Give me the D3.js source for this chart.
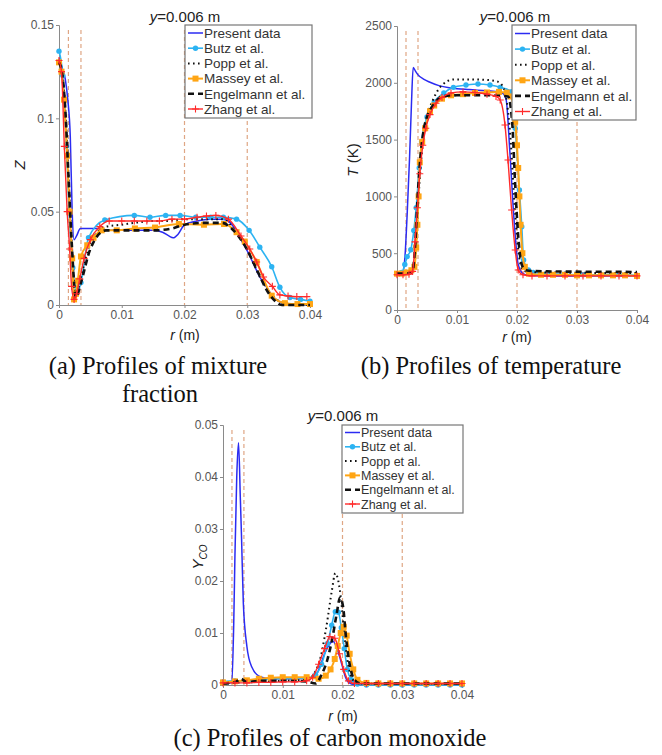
<!DOCTYPE html>
<html>
<head>
<meta charset="utf-8">
<script src="https://cdn.jsdelivr.net/npm/d3@7"></script>
<style>
  body { margin: 0; background: #fff; }
  svg { display: block; }
</style>
</head>
<body>
<script>
// Series names (legend order)
const seriesNames = ['Present data', 'Butz et al.', 'Popp et al.', 'Massey et al.', 'Engelmann et al.', 'Zhang et al.'];
const rTicks = [0, 0.01, 0.02, 0.03, 0.04];
const guideR = [0.0015, 0.0035, 0.02, 0.03];
const zTicks = [0, 0.05, 0.1, 0.15];
const tTicks = [0, 500, 1000, 1500, 2000, 2500];
const coTicks = [0, 0.01, 0.02, 0.03, 0.04, 0.05];

// (a) mixture fraction Z
const zPresentR = [0, 0.0005, 0.001, 0.0014, 0.0018, 0.0021, 0.0024, 0.0028, 0.0034, 0.005, 0.0065, 0.008, 0.012, 0.015, 0.0165, 0.0175, 0.0182, 0.019, 0.02, 0.022, 0.024, 0.026, 0.027, 0.028, 0.029, 0.03, 0.031, 0.032, 0.033, 0.034, 0.035, 0.036, 0.038, 0.04];
const zPresentV = [0.132, 0.127, 0.121, 0.11, 0.09, 0.05, 0.035, 0.037, 0.041, 0.041, 0.041, 0.040, 0.040, 0.040, 0.039, 0.037, 0.036, 0.038, 0.043, 0.045, 0.046, 0.046, 0.045, 0.041, 0.035, 0.029, 0.022, 0.015, 0.010, 0.005, 0.002, 0.001, 0.0005, 0.0003];
const zButzR = [0, 0.0006, 0.0012, 0.0016, 0.0022, 0.0028, 0.0035, 0.0047, 0.0073, 0.012, 0.0145, 0.017, 0.0193, 0.0218, 0.0242, 0.0262, 0.0283, 0.0303, 0.032, 0.0339, 0.0352, 0.0368, 0.0385, 0.04];
const zButzV = [0.136, 0.123, 0.085, 0.05, 0.02, 0.006, 0.012, 0.036, 0.0455, 0.048, 0.047, 0.048, 0.048, 0.047, 0.047, 0.047, 0.046, 0.040, 0.031, 0.0205, 0.0095, 0.004, 0.003, 0.002];
const zPoppR = [0, 0.0005, 0.001, 0.0015, 0.002, 0.0027, 0.0035, 0.005, 0.0075, 0.01, 0.012, 0.015, 0.017, 0.02, 0.023, 0.026, 0.028, 0.03, 0.032, 0.034, 0.036, 0.04];
const zPoppV = [0.131, 0.125, 0.105, 0.07, 0.035, 0.005, 0.015, 0.033, 0.042, 0.043, 0.044, 0.045, 0.045, 0.046, 0.046, 0.046, 0.040, 0.030, 0.015, 0.005, 0.001, 0];
const zMasseyR = [0, 0.0004, 0.0008, 0.0013, 0.0017, 0.0021, 0.0024, 0.0027, 0.003, 0.0035, 0.0045, 0.0055, 0.0068, 0.0092, 0.0121, 0.0153, 0.0191, 0.0231, 0.0263, 0.0283, 0.0296, 0.0315, 0.0339, 0.036, 0.038, 0.04];
const zMasseyV = [0.13, 0.125, 0.11, 0.08, 0.05, 0.025, 0.003, 0.006, 0.013, 0.026, 0.032, 0.036, 0.040, 0.040, 0.041, 0.0415, 0.0434, 0.043, 0.0434, 0.039, 0.034, 0.023, 0.005, 0.001, 0.0005, 0.0005];
const zEngelR = [0, 0.0005, 0.001, 0.0015, 0.002, 0.0027, 0.0035, 0.005, 0.0075, 0.01, 0.015, 0.018, 0.02, 0.023, 0.026, 0.0275, 0.0294, 0.0318, 0.0331, 0.0345, 0.0355, 0.04];
const zEngelV = [0.13, 0.124, 0.105, 0.07, 0.035, 0.004, 0.012, 0.03, 0.04, 0.04, 0.04, 0.041, 0.043, 0.044, 0.044, 0.041, 0.033, 0.017, 0.008, 0.002, 0, 0];
const zZhangR = [0, 0.0004, 0.00085, 0.0013, 0.0017, 0.002, 0.0024, 0.0028, 0.0033, 0.004, 0.005, 0.0065, 0.008, 0.01, 0.012, 0.014, 0.016, 0.018, 0.02, 0.022, 0.0235, 0.025, 0.027, 0.029, 0.0304, 0.0315, 0.0326, 0.034, 0.0352, 0.0365, 0.0379, 0.0395];
const zZhangV = [0.131, 0.125, 0.085, 0.05, 0.03, 0.01, 0.003, 0.006, 0.014, 0.025, 0.035, 0.042, 0.045, 0.045, 0.045, 0.045, 0.045, 0.046, 0.046, 0.047, 0.0477, 0.048, 0.046, 0.037, 0.030, 0.023, 0.015, 0.010, 0.0054, 0.0048, 0.0045, 0.0045];

// (b) temperature T (K)
const tPresentR = [0, 0.0009, 0.0013, 0.0017, 0.0021, 0.0024, 0.0027, 0.0031, 0.0035, 0.0045, 0.0055, 0.007, 0.009, 0.012, 0.015, 0.017, 0.0178, 0.0182, 0.0188, 0.0195, 0.0202, 0.021, 0.0218, 0.025, 0.03, 0.04];
const tPresentV = [320, 325, 450, 850, 1350, 1800, 2135, 2100, 2070, 2030, 2005, 1975, 1955, 1940, 1930, 1920, 1900, 1850, 1400, 800, 400, 320, 305, 300, 300, 300];
const tButzR = [0, 0.0008, 0.0013, 0.0017, 0.0023, 0.0028, 0.0032, 0.0037, 0.0041, 0.005, 0.0062, 0.0078, 0.0094, 0.0115, 0.0135, 0.0155, 0.0172, 0.0191, 0.0197, 0.0204, 0.0208, 0.0211, 0.0219, 0.0227, 0.025, 0.028, 0.031, 0.034, 0.037, 0.04];
const tButzV = [320, 330, 400, 470, 530, 700, 900, 1250, 1480, 1700, 1830, 1910, 1960, 1980, 1990, 1980, 1960, 1922, 1600, 1056, 733, 440, 352, 330, 320, 315, 310, 310, 310, 305];
const tPoppR = [0, 0.002, 0.0028, 0.0032, 0.0036, 0.004, 0.0045, 0.005, 0.006, 0.0075, 0.0095, 0.012, 0.015, 0.0168, 0.0178, 0.0185, 0.019, 0.0195, 0.02, 0.0205, 0.021, 0.022, 0.025, 0.04];
const tPoppV = [320, 320, 340, 600, 1000, 1300, 1550, 1700, 1850, 1980, 2030, 2030, 2025, 2010, 1950, 1750, 1450, 1000, 650, 420, 350, 335, 330, 325];
const tMasseyR = [0, 0.0008, 0.0016, 0.0024, 0.0029, 0.0032, 0.0034, 0.0036, 0.0038, 0.0042, 0.0047, 0.0055, 0.0062, 0.0075, 0.009, 0.011, 0.013, 0.015, 0.017, 0.0183, 0.019, 0.0197, 0.02, 0.0202, 0.0204, 0.0206, 0.0209, 0.0213, 0.022, 0.024, 0.026, 0.028, 0.03, 0.032, 0.034, 0.036, 0.038, 0.04];
const tMasseyV = [320, 320, 330, 350, 380, 550, 750, 1000, 1300, 1480, 1600, 1750, 1800, 1860, 1890, 1900, 1910, 1915, 1920, 1913, 1880, 1658, 1450, 1250, 1000, 750, 500, 380, 320, 310, 310, 310, 305, 305, 305, 305, 305, 300];
const tEngelR = [0, 0.002, 0.0026, 0.003, 0.0035, 0.004, 0.0045, 0.005, 0.006, 0.0075, 0.01, 0.015, 0.0185, 0.0192, 0.0197, 0.0202, 0.0207, 0.0212, 0.022, 0.025, 0.04];
const tEngelV = [320, 320, 340, 550, 1050, 1400, 1600, 1700, 1800, 1880, 1890, 1890, 1880, 1650, 1100, 650, 420, 360, 345, 340, 335];
const tZhangR = [0, 0.001, 0.002, 0.0026, 0.003, 0.0034, 0.0038, 0.0043, 0.0048, 0.0055, 0.0065, 0.0075, 0.009, 0.011, 0.013, 0.015, 0.0165, 0.0172, 0.018, 0.0185, 0.0191, 0.0197, 0.0202, 0.021, 0.0225, 0.025, 0.028, 0.031, 0.034, 0.037, 0.04];
const tZhangV = [310, 310, 315, 340, 600, 900, 1200, 1450, 1600, 1720, 1820, 1870, 1910, 1920, 1915, 1900, 1880, 1848, 1628, 1320, 880, 528, 352, 310, 300, 300, 300, 300, 300, 300, 300];

// (c) carbon monoxide Y_CO
const yPresentR = [0, 0.0008, 0.00145, 0.0018, 0.002, 0.0023, 0.0026, 0.0029, 0.0031, 0.0034, 0.004, 0.0048, 0.0062, 0.008, 0.011, 0.014, 0.0154, 0.0162, 0.017, 0.0178, 0.0184, 0.019, 0.0195, 0.02, 0.0205, 0.021, 0.022, 0.03, 0.04];
const yPresentV = [0.0002, 0.0003, 0.0005, 0.012, 0.025, 0.040, 0.0466, 0.036, 0.0285, 0.0158, 0.0074, 0.0035, 0.0016, 0.0012, 0.0012, 0.0013, 0.0016, 0.0035, 0.006, 0.0078, 0.0084, 0.0072, 0.0055, 0.0035, 0.0015, 0.0005, 0.0001, 0.0001, 0.0001];
const yButzR = [0, 0.002, 0.004, 0.006, 0.008, 0.01, 0.012, 0.014, 0.0155, 0.0165, 0.0175, 0.0182, 0.0188, 0.0193, 0.0198, 0.0203, 0.0208, 0.0215, 0.0225, 0.024, 0.026, 0.028, 0.03, 0.032, 0.034, 0.036, 0.038, 0.04];
const yButzV = [0.0006, 0.0008, 0.0008, 0.001, 0.0012, 0.0012, 0.0013, 0.0013, 0.002, 0.004, 0.008, 0.0115, 0.0141, 0.014, 0.011, 0.007, 0.003, 0.001, 0.0002, 0, 0, 0, 0, 0, 0, 0, 0, 0];
const yPoppR = [0, 0.005, 0.01, 0.014, 0.016, 0.0173, 0.0182, 0.0188, 0.0193, 0.0198, 0.0202, 0.0208, 0.0215, 0.0225, 0.04];
const yPoppV = [0.0003, 0.0006, 0.0008, 0.001, 0.004, 0.0112, 0.018, 0.0215, 0.020, 0.016, 0.011, 0.005, 0.0015, 0.0003, 0.0002];
const yMasseyR = [0, 0.002, 0.004, 0.006, 0.008, 0.01, 0.012, 0.014, 0.016, 0.0172, 0.018, 0.0187, 0.0192, 0.0197, 0.0202, 0.0207, 0.0212, 0.0218, 0.0225, 0.024, 0.026, 0.028, 0.03, 0.032, 0.034, 0.036, 0.038, 0.04];
const yMasseyV = [0.0005, 0.0007, 0.0009, 0.0012, 0.0014, 0.0015, 0.0015, 0.0015, 0.0012, 0.0018, 0.003, 0.005, 0.0075, 0.010, 0.0112, 0.0095, 0.006, 0.003, 0.001, 0.0004, 0.0003, 0.0003, 0.0003, 0.0003, 0.0003, 0.0003, 0.0003, 0.0003];
const yEngelR = [0, 0.002, 0.003, 0.004, 0.006, 0.01, 0.014, 0.0155, 0.0165, 0.0175, 0.0183, 0.019, 0.0196, 0.0201, 0.0206, 0.0212, 0.022, 0.023, 0.04];
const yEngelV = [0.0003, 0.0005, 0.0012, 0.0005, 0.0008, 0.0008, 0.0007, 0.0003, 0.002, 0.005, 0.009, 0.0135, 0.0168, 0.015, 0.009, 0.004, 0.001, 0.0003, 0.0003];
const yZhangR = [0, 0.002, 0.004, 0.006, 0.008, 0.01, 0.012, 0.014, 0.015, 0.016, 0.017, 0.0179, 0.0187, 0.0195, 0.0202, 0.021, 0.022, 0.024, 0.026, 0.028, 0.03, 0.032, 0.034, 0.036, 0.038, 0.04];
const yZhangV = [0.0004, 0.0004, 0.0004, 0.0005, 0.0005, 0.0006, 0.0006, 0.0008, 0.0015, 0.004, 0.007, 0.0093, 0.009, 0.006, 0.003, 0.0008, 0.0003, 0.0003, 0.0003, 0.0003, 0.0003, 0.0003, 0.0003, 0.0003, 0.0003, 0.0003];

// Line styles per series (same order as seriesNames)
const styles = [
    { color: '#2b2bf2', width: 1.5, dash: null, marker: null },
    { color: '#2cb3f2', width: 1.6, dash: null, marker: 'circle' },
    { color: '#111', width: 2, dash: '1.6,3.4', marker: null },
    { color: '#ffa514', width: 2, dash: null, marker: 'square' },
    { color: '#111', width: 2.6, dash: '6,4', marker: null },
    { color: '#ff2a2a', width: 1.4, dash: null, marker: 'plus' }
];

const zip = (rs, vs) => rs.map((r, i) => ({ r: r, v: vs[i] }));

const svg = d3.select('body')
    .append('svg')
    .attr('width', 662)
    .attr('height', 755)
    .style('font-family', "'Liberation Sans', Arial, sans-serif");

svg.append('rect').attr('width', 662).attr('height', 755).attr('fill', '#fff');

function drawMarker(g, kind, px, py, color) {
    if (kind === 'circle') {
        g.append('circle').attr('cx', px).attr('cy', py).attr('r', 2.7).attr('fill', color);
    } else if (kind === 'square') {
        g.append('rect').attr('x', px - 3).attr('y', py - 3).attr('width', 6).attr('height', 6).attr('fill', color);
    } else if (kind === 'plus') {
        g.append('path').attr('d', `M${px - 3.5},${py}H${px + 3.5}M${px},${py - 3.5}V${py + 3.5}`)
            .attr('stroke', color).attr('stroke-width', 1.1);
    }
}

function drawPanel(p) {
    const x = d3.scaleLinear().domain([0, 0.04]).range([p.left, p.right]);
    const y = d3.scaleLinear().domain([0, p.yMax]).range([p.bottom, p.top]);
    const g = svg.append('g');
    const fmt = d => d === 0 ? '0' : d3.format('~g')(d);

    // vertical reference lines
    g.selectAll('.guide')
        .data(guideR)
        .join('line')
        .attr('x1', d => x(d)).attr('x2', d => x(d))
        .attr('y1', p.top + 5).attr('y2', p.bottom)
        .attr('stroke', '#dfa684')
        .attr('stroke-width', 1.2)
        .attr('stroke-dasharray', '4,3');

    // axes
    const xAxis = g.append('g')
        .attr('transform', `translate(0,${p.bottom})`)
        .call(d3.axisBottom(x).tickValues(rTicks).tickFormat(fmt).tickSize(3).tickPadding(2));
    const yAxis = g.append('g')
        .attr('transform', `translate(${p.left},0)`)
        .call(d3.axisLeft(y).tickValues(p.yTicks).tickFormat(fmt).tickSize(3).tickPadding(2));
    [xAxis, yAxis].forEach(a => {
        a.selectAll('path, line').attr('stroke', '#8a8a8a');
        a.selectAll('text').attr('fill', '#555').style('font-size', '12px')
            .style('font-family', "'Liberation Sans', Arial, sans-serif");
    });

    // data lines
    const line = d3.line().x(d => x(d.r)).y(d => y(d.v)).curve(d3.curveMonotoneX);
    p.series.forEach((s, i) => {
        const st = styles[i];
        g.append('path')
            .attr('d', line(s))
            .attr('fill', 'none')
            .attr('stroke', st.color)
            .attr('stroke-width', st.width)
            .attr('stroke-dasharray', st.dash);
        if (st.marker) {
            s.forEach(d => drawMarker(g, st.marker, x(d.r), y(d.v), st.color));
        }
    });

    // legend
    const L = p.legend;
    g.append('rect')
        .attr('x', L.x).attr('y', L.y).attr('width', L.w).attr('height', L.h)
        .attr('fill', '#fff').attr('stroke', '#777').attr('stroke-width', 1.2);
    seriesNames.forEach((name, i) => {
        const st = styles[i];
        const cy = L.y + L.first + i * L.row;
        g.append('line')
            .attr('x1', L.x + 3).attr('x2', L.x + 18)
            .attr('y1', cy).attr('y2', cy)
            .attr('stroke', st.color).attr('stroke-width', st.width)
            .attr('stroke-dasharray', st.dash);
        if (st.marker) drawMarker(g, st.marker, L.x + 10.5, cy, st.color);
        g.append('text')
            .attr('x', L.x + 19).attr('y', cy + L.font * 0.36)
            .attr('fill', '#333')
            .style('font-size', L.font + 'px')
            .text(name);
    });

    // title
    const title = g.append('text')
        .attr('x', p.titleX).attr('y', p.titleY)
        .attr('text-anchor', 'middle')
        .style('font-size', '15px')
        .attr('fill', '#222');
    title.append('tspan').style('font-style', 'italic').text('y');
    title.append('tspan').text('=0.006 m');

    // x label
    const xl = g.append('text')
        .attr('x', p.xLabelX).attr('y', p.xLabelY)
        .attr('text-anchor', 'middle')
        .style('font-size', '14px')
        .attr('fill', '#222');
    xl.append('tspan').style('font-style', 'italic').text('r');
    xl.append('tspan').text(' (m)');

    // y label
    const yl = g.append('text')
        .attr('transform', `translate(${p.yLabelX},${p.yLabelY}) rotate(-90)`)
        .attr('text-anchor', 'middle')
        .style('font-size', '15px')
        .attr('fill', '#222');
    p.yLabel.forEach(part => {
        const t = yl.append('tspan').text(part.text);
        if (part.italic) t.style('font-style', 'italic');
        if (part.sub) t.style('font-size', '10px').attr('dy', 4);
    });
}

drawPanel({
    left: 59, right: 310, top: 25, bottom: 305, yMax: 0.15, yTicks: zTicks,
    series: [zip(zPresentR, zPresentV), zip(zButzR, zButzV), zip(zPoppR, zPoppV),
             zip(zMasseyR, zMasseyV), zip(zEngelR, zEngelV), zip(zZhangR, zZhangV)],
    legend: { x: 185, y: 25, w: 127, h: 93, first: 8, row: 15.2, font: 13.5 },
    titleX: 185, titleY: 22, xLabelX: 185, xLabelY: 340, yLabelX: 25, yLabelY: 165,
    yLabel: [{ text: 'Z', italic: true }]
});

drawPanel({
    left: 397, right: 637, top: 26, bottom: 310, yMax: 2500, yTicks: tTicks,
    series: [zip(tPresentR, tPresentV), zip(tButzR, tButzV), zip(tPoppR, tPoppV),
             zip(tMasseyR, tMasseyV), zip(tEngelR, tEngelV), zip(tZhangR, tZhangV)],
    legend: { x: 512, y: 25, w: 124, h: 95, first: 8.5, row: 15.6, font: 13.5 },
    titleX: 515, titleY: 22, xLabelX: 517, xLabelY: 342, yLabelX: 358, yLabelY: 160,
    yLabel: [{ text: 'T', italic: true }, { text: ' (K)' }]
});

drawPanel({
    left: 223, right: 462, top: 425, bottom: 685, yMax: 0.05, yTicks: coTicks,
    series: [zip(yPresentR, yPresentV), zip(yButzR, yButzV), zip(yPoppR, yPoppV),
             zip(yMasseyR, yMasseyV), zip(yEngelR, yEngelV), zip(yZhangR, yZhangV)],
    legend: { x: 342, y: 425, w: 121, h: 88, first: 7.5, row: 14.3, font: 12.5 },
    titleX: 343, titleY: 421, xLabelX: 343, xLabelY: 721, yLabelX: 203, yLabelY: 557,
    yLabel: [{ text: 'Y', italic: true }, { text: 'CO', italic: true, sub: true }]
});

// captions
const captions = [
    { text: '(a) Profiles of mixture', x: 158, y: 374 },
    { text: 'fraction', x: 160, y: 402 },
    { text: '(b) Profiles of temperature', x: 491, y: 374 },
    { text: '(c) Profiles of carbon monoxide', x: 330, y: 746 }
];
svg.selectAll('.caption')
    .data(captions)
    .join('text')
    .attr('class', 'caption')
    .attr('x', d => d.x)
    .attr('y', d => d.y)
    .attr('text-anchor', 'middle')
    .style('font-family', "'Liberation Serif', 'Times New Roman', serif")
    .style('font-size', '24.5px')
    .attr('fill', '#111')
    .text(d => d.text);
</script>
</body>
</html>
